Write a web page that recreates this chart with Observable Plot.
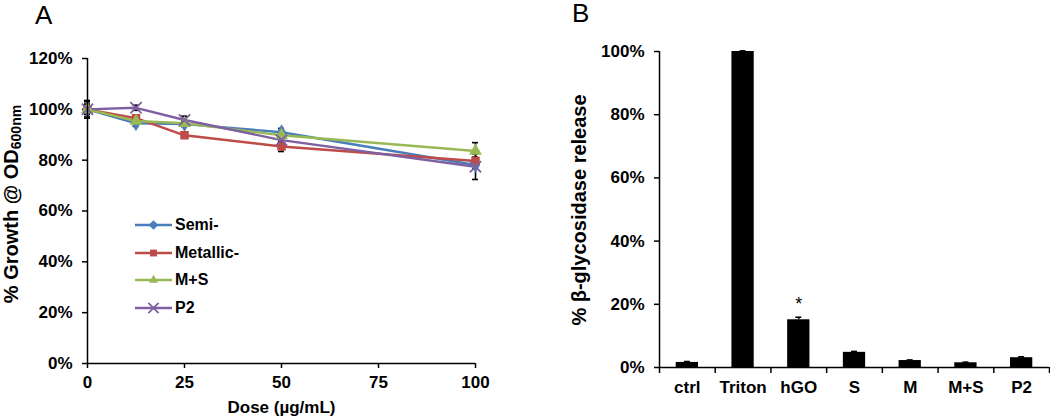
<!DOCTYPE html>
<html>
<head>
<meta charset="utf-8">
<script src="https://cdn.jsdelivr.net/npm/d3@7"></script>
<script src="https://cdn.jsdelivr.net/npm/@observablehq/plot@0.6"></script>
<style>
  html, body { margin: 0; padding: 0; background: #fff; }
  #wrap { position: relative; width: 1050px; height: 416px; font-family: "Liberation Sans", Arial, sans-serif; }
  .panel { position: absolute; top: 0; }
  .tag { position: absolute; font-size: 26px; font-weight: normal; line-height: 1; }
  .legend { position: absolute; left: 135px; top: 211px; font-weight: bold; font-size: 16px; }
  .legend .row { display: flex; align-items: center; height: 27.7px; }
  .legend svg { margin-right: 2px; }
</style>
</head>
<body>
<div id="wrap">
  <div class="tag" style="left:35px;top:2px;">A</div>
  <div class="tag" style="left:572px;top:0px;">B</div>
  <div class="panel" id="pa" style="left:0px;"></div>
  <div class="panel" id="pb" style="left:540px;"></div>
  <div class="legend" id="legend"></div>
</div>
<script>
// ---------- Panel A data ----------
const doses = [0, 12.5, 25, 50, 100];
const seriesNames = ["Semi-", "Metallic-", "M+S", "P2"];
const seriesColors = ["#4A7EBB", "#BE4B48", "#98B954", "#7D60A0"];
const seriesSymbols = ["diamond", "square", "triangle", "times"];
const semiVals = [1.000, 0.945, 0.942, 0.910, 0.781];
const metallicVals = [1.000, 0.965, 0.898, 0.854, 0.797];
const msVals = [1.000, 0.954, 0.945, 0.898, 0.836];
const p2Vals = [1.000, 1.006, 0.958, 0.879, 0.774];
const semiErr = [0.030, 0.012, 0.010, 0.015, 0.015];
const metallicErr = [0.020, 0.010, 0.008, 0.020, 0.015];
const msErr = [0.020, 0.010, 0.010, 0.010, 0.033];
const p2Err = [0.035, 0.010, 0.015, 0.015, 0.050];
const yTicksA = [0, 0.2, 0.4, 0.6, 0.8, 1.0, 1.2];
const xTicksA = [0, 25, 50, 75, 100];

// ---------- Panel B data ----------
const catsB = ["ctrl", "Triton", "hGO", "S", "M", "M+S", "P2"];
const valsB = [0.016, 1.000, 0.151, 0.048, 0.022, 0.015, 0.031];
const errB = [0.003, 0.002, 0.008, 0.003, 0.002, 0.002, 0.003];
const sigB = ["hGO"];
const yTicksB = [0, 0.2, 0.4, 0.6, 0.8, 1.0];

const allVals = [semiVals, metallicVals, msVals, p2Vals];
const allErr = [semiErr, metallicErr, msErr, p2Err];
const rowsA = [];
seriesNames.forEach((s, si) => doses.forEach((d, di) => rowsA.push({
  series: s, dose: d, value: allVals[si][di], err: allErr[si][di]
})));

const font = '"Liberation Sans", Arial, sans-serif';
const baseStyle = { fontFamily: font, fontSize: "17px", fontWeight: "bold", color: "black", background: "transparent", overflow: "visible" };
const tickFont = 17;

const colorScale = { domain: seriesNames, range: seriesColors };
const symbolScale = { domain: seriesNames, range: seriesSymbols };

const plotA = Plot.plot({
  width: 520, height: 416,
  marginLeft: 87, marginRight: 45, marginTop: 58, marginBottom: 53,
  style: baseStyle,
  x: { domain: [0, 100] },
  y: { domain: [0, 1.2] },
  color: colorScale,
  symbol: symbolScale,
  marks: [
    Plot.axisY({ ticks: yTicksA, tickFormat: d3.format(".0%"), tickSize: 5, tickPadding: 10, label: null, strokeWidth: 1.5, fontSize: tickFont, fontWeight: "bold" }),
    Plot.axisX({ ticks: xTicksA, tickSize: 5, tickPadding: 7, label: null, strokeWidth: 1.5, fontSize: tickFont, fontWeight: "bold" }),
    // error bars
    Plot.ruleX(rowsA, { x: "dose", y1: d => d.value - d.err, y2: d => d.value + d.err, stroke: "black", strokeWidth: 1.6 }),
    Plot.ruleY(rowsA, { y: d => d.value + d.err, x1: "dose", x2: "dose", insetLeft: -3, insetRight: -3, stroke: "black", strokeWidth: 1.6 }),
    Plot.ruleY(rowsA, { y: d => d.value - d.err, x1: "dose", x2: "dose", insetLeft: -3, insetRight: -3, stroke: "black", strokeWidth: 1.6 }),
    Plot.line(rowsA, { x: "dose", y: "value", z: "series", stroke: "series", strokeWidth: 2.4 }),
    Plot.dot(rowsA.filter(d => d.series !== "P2"), { x: "dose", y: "value", symbol: "series", fill: "series", stroke: "none", r: 4.8 }),
    Plot.dot(rowsA.filter(d => d.series === "P2"), { x: "dose", y: "value", symbol: "series", stroke: "series", fill: "none", r: 5.2, strokeWidth: 1.8 }),
    Plot.ruleX([0], { stroke: "black", strokeWidth: 1.5 }),
    Plot.ruleY([0], { stroke: "black", strokeWidth: 1.5 }),
    Plot.text(["Dose (µg/mL)"], { frameAnchor: "bottom", dy: 44, lineAnchor: "middle", fontSize: 17, fontWeight: "bold" })
  ]
});
document.getElementById("pa").appendChild(plotA);

// Y label A with subscript
{
  const svg = d3.select(plotA);
  const t = svg.append("text")
    .attr("transform", "translate(11,204) rotate(-90)")
    .attr("text-anchor", "middle")
    .attr("dominant-baseline", "central")
    .style("font-family", font).style("font-size", "20px").style("font-weight", "bold").attr("fill", "black");
  t.append("tspan").text("% Growth @ OD");
  t.append("tspan").attr("dy", 5).style("font-size", "14px").text("600nm");
}

const idx = d3.range(catsB.length);
const plotB = Plot.plot({
  width: 510, height: 416,
  marginLeft: 119, marginRight: 1, marginTop: 51, marginBottom: 49,
  style: baseStyle,
  x: { domain: [0, catsB.length] },
  y: { domain: [0, 1] },
  marks: [
    Plot.rectY(idx, { x1: i => i + 0.3, x2: i => i + 0.7, y: i => valsB[i], fill: "black" }),
    Plot.ruleX(idx, { x: i => i + 0.5, y1: i => valsB[i], y2: i => valsB[i] + errB[i], stroke: "black", strokeWidth: 1.5 }),
    Plot.ruleY(idx, { y: i => valsB[i] + errB[i], x1: i => i + 0.5, x2: i => i + 0.5, insetLeft: -3, insetRight: -3, stroke: "black", strokeWidth: 1.5 }),
    Plot.text(sigB, { x: c => catsB.indexOf(c) + 0.5, y: c => valsB[catsB.indexOf(c)] + errB[catsB.indexOf(c)], text: () => "*", dy: -13, fontSize: 18, fontWeight: "normal" }),
    Plot.axisY({ ticks: yTicksB, tickFormat: d3.format(".0%"), tickSize: 5, tickPadding: 10, label: null, strokeWidth: 1.5, fontSize: tickFont, fontWeight: "bold" }),
    Plot.axisX({ ticks: d3.range(catsB.length + 1), tickFormat: () => "", tickSize: 6, label: null, strokeWidth: 1.5 }),
    Plot.axisX({ ticks: idx.map(i => i + 0.5), tickFormat: t => catsB[Math.floor(t)], tickSize: 0, tickPadding: 13, label: null, fontSize: tickFont, fontWeight: "bold" }),
    Plot.ruleX([0], { stroke: "black", strokeWidth: 1.5 }),
    Plot.ruleY([0], { stroke: "black", strokeWidth: 1.5 })
  ]
});
document.getElementById("pb").appendChild(plotB);
{
  const svg = d3.select(plotB);
  svg.append("text")
    .attr("transform", "translate(39,210) rotate(-90)")
    .attr("text-anchor", "middle")
    .attr("dominant-baseline", "central")
    .style("font-family", font).style("font-size", "20px").style("font-weight", "bold").attr("fill", "black")
    .text("% β-glycosidase release");
}

// Legend
{
  const leg = d3.select("#legend");
  seriesNames.forEach((s, i) => {
    const row = leg.append("div").attr("class", "row");
    const svg = row.append("svg").attr("width", 38).attr("height", 14);
    svg.append("line").attr("x1", 0).attr("x2", 37).attr("y1", 7).attr("y2", 7)
      .attr("stroke", seriesColors[i]).attr("stroke-width", 2.4);
    const symMap = { diamond: d3.symbolDiamond2, square: d3.symbolSquare2, triangle: d3.symbolTriangle2, times: d3.symbolTimes };
    const sym = d3.symbol(symMap[seriesSymbols[i]], seriesSymbols[i] === "times" ? 70 : 60)();
    const p = svg.append("path").attr("d", sym).attr("transform", "translate(18.5,7)");
    if (seriesSymbols[i] === "times") p.attr("fill", "none").attr("stroke", seriesColors[i]).attr("stroke-width", 1.8);
    else p.attr("fill", seriesColors[i]);
    row.append("span").text(s);
  });
}
</script>
</body>
</html>
